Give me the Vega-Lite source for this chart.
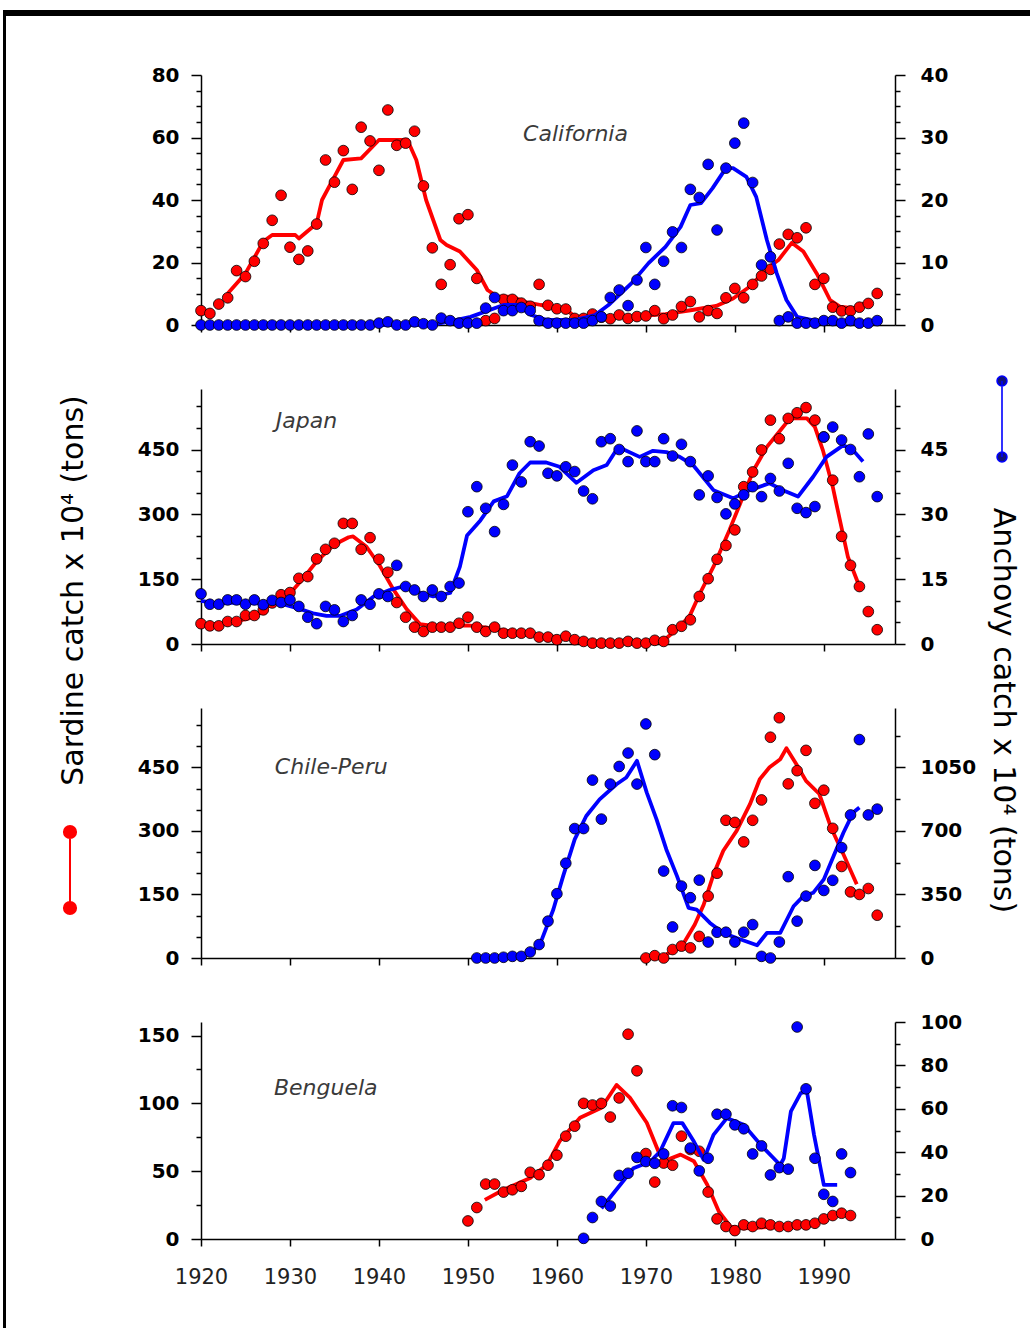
{
"$schema": "https://vega.github.io/schema/vega-lite/v6.json",
"background": "white",
"padding": {"left": 3, "top": 10, "right": 0, "bottom": 0},
"spacing": 0,
"datasets": {
"cal_sardine": [{"year":1920,"catch":4.6},{"year":1921,"catch":3.7},{"year":1922,"catch":6.7},{"year":1923,"catch":8.7},{"year":1924,"catch":17.4},{"year":1925,"catch":15.5},{"year":1926,"catch":20.4},{"year":1927,"catch":26.1},{"year":1928,"catch":33.5},{"year":1929,"catch":41.5},{"year":1930,"catch":24.9},{"year":1931,"catch":21},{"year":1932,"catch":23.7},{"year":1933,"catch":32.3},{"year":1934,"catch":52.8},{"year":1935,"catch":45.7},{"year":1936,"catch":55.8},{"year":1937,"catch":43.4},{"year":1938,"catch":63.3},{"year":1939,"catch":58.9},{"year":1940,"catch":49.5},{"year":1941,"catch":68.8},{"year":1942,"catch":57.5},{"year":1943,"catch":58.2},{"year":1944,"catch":62},{"year":1945,"catch":44.5},{"year":1946,"catch":24.7},{"year":1947,"catch":13},{"year":1948,"catch":19.3},{"year":1949,"catch":34},{"year":1950,"catch":35.3},{"year":1951,"catch":14.9},{"year":1952,"catch":1.4},{"year":1953,"catch":2.1},{"year":1954,"catch":8.2},{"year":1955,"catch":8.2},{"year":1956,"catch":7},{"year":1957,"catch":6},{"year":1958,"catch":13},{"year":1959,"catch":6.3},{"year":1960,"catch":5.2},{"year":1961,"catch":5.1},{"year":1962,"catch":2.1},{"year":1963,"catch":2.1},{"year":1964,"catch":3.5},{"year":1965,"catch":2.5},{"year":1966,"catch":2},{"year":1967,"catch":3.2},{"year":1968,"catch":2.1},{"year":1969,"catch":2.7},{"year":1970,"catch":2.9},{"year":1971,"catch":4.6},{"year":1972,"catch":2},{"year":1973,"catch":3.2},{"year":1974,"catch":5.9},{"year":1975,"catch":7.5},{"year":1976,"catch":2.6},{"year":1977,"catch":4.6},{"year":1978,"catch":3.7},{"year":1979,"catch":8.7},{"year":1980,"catch":11.7},{"year":1981,"catch":8.7},{"year":1982,"catch":13},{"year":1983,"catch":15.7},{"year":1984,"catch":17.8},{"year":1985,"catch":25.9},{"year":1986,"catch":29},{"year":1987,"catch":27.9},{"year":1988,"catch":31.1},{"year":1989,"catch":13},{"year":1990,"catch":14.9},{"year":1991,"catch":5.7},{"year":1992,"catch":4.5},{"year":1993,"catch":4.5},{"year":1994,"catch":5.7},{"year":1995,"catch":6.9},{"year":1996,"catch":10.1}],
"cal_anchovy": [{"year":1920,"catch":0},{"year":1921,"catch":0},{"year":1922,"catch":0},{"year":1923,"catch":0},{"year":1924,"catch":0},{"year":1925,"catch":0},{"year":1926,"catch":0},{"year":1927,"catch":0},{"year":1928,"catch":0},{"year":1929,"catch":0},{"year":1930,"catch":0},{"year":1931,"catch":0},{"year":1932,"catch":0},{"year":1933,"catch":0},{"year":1934,"catch":0},{"year":1935,"catch":0},{"year":1936,"catch":0},{"year":1937,"catch":0},{"year":1938,"catch":0},{"year":1939,"catch":0},{"year":1940,"catch":0.3},{"year":1941,"catch":0.5},{"year":1942,"catch":0},{"year":1943,"catch":0},{"year":1944,"catch":0.5},{"year":1945,"catch":0.2},{"year":1946,"catch":0},{"year":1947,"catch":1.1},{"year":1948,"catch":0.7},{"year":1949,"catch":0.3},{"year":1950,"catch":0.3},{"year":1951,"catch":0.3},{"year":1952,"catch":2.7},{"year":1953,"catch":4.4},{"year":1954,"catch":2.3},{"year":1955,"catch":2.3},{"year":1956,"catch":2.8},{"year":1957,"catch":2.3},{"year":1958,"catch":0.7},{"year":1959,"catch":0.3},{"year":1960,"catch":0.3},{"year":1961,"catch":0.3},{"year":1962,"catch":0.3},{"year":1963,"catch":0.3},{"year":1964,"catch":0.7},{"year":1965,"catch":1.3},{"year":1966,"catch":4.4},{"year":1967,"catch":5.6},{"year":1968,"catch":3.1},{"year":1969,"catch":7.2},{"year":1970,"catch":12.4},{"year":1971,"catch":6.5},{"year":1972,"catch":10.2},{"year":1973,"catch":14.9},{"year":1974,"catch":12.4},{"year":1975,"catch":21.7},{"year":1976,"catch":20.4},{"year":1977,"catch":25.7},{"year":1978,"catch":15.2},{"year":1979,"catch":25.1},{"year":1980,"catch":29.1},{"year":1981,"catch":32.3},{"year":1982,"catch":22.8},{"year":1983,"catch":9.6},{"year":1984,"catch":10.9},{"year":1985,"catch":0.7},{"year":1986,"catch":1.3},{"year":1987,"catch":0.3},{"year":1988,"catch":0.3},{"year":1989,"catch":0.3},{"year":1990,"catch":0.7},{"year":1991,"catch":0.7},{"year":1992,"catch":0.3},{"year":1993,"catch":0.7},{"year":1994,"catch":0.3},{"year":1995,"catch":0.3},{"year":1996,"catch":0.7}],
"cal_sardine_trend": [{"year":1923,"catch":10.1},{"year":1925,"catch":16.5},{"year":1927,"catch":26.7},{"year":1928,"catch":28.8},{"year":1930.6,"catch":28.8},{"year":1931,"catch":27.7},{"year":1933,"catch":32.5},{"year":1933.6,"catch":40},{"year":1935,"catch":47.5},{"year":1936,"catch":52.8},{"year":1938,"catch":53.3},{"year":1940,"catch":59.2},{"year":1943.2,"catch":59.2},{"year":1944.2,"catch":52.8},{"year":1945.3,"catch":40},{"year":1946.9,"catch":27.2},{"year":1947.6,"catch":25.6},{"year":1949.1,"catch":23.5},{"year":1951,"catch":17.6},{"year":1952.2,"catch":11.2},{"year":1953.3,"catch":9.1},{"year":1955,"catch":9.1},{"year":1956.2,"catch":7.5},{"year":1958.2,"catch":6.4},{"year":1960.9,"catch":5.3},{"year":1962,"catch":2.7},{"year":1963.9,"catch":2.9},{"year":1965.8,"catch":2.7},{"year":1968.4,"catch":2.7},{"year":1972.2,"catch":3.5},{"year":1975.2,"catch":4.8},{"year":1977.9,"catch":6.1},{"year":1979.8,"catch":8.5},{"year":1981.7,"catch":12.3},{"year":1983.6,"catch":18.1},{"year":1984.9,"catch":20.8},{"year":1986.4,"catch":26.3},{"year":1987.7,"catch":23.5},{"year":1989.2,"catch":16.5},{"year":1990.7,"catch":8},{"year":1991.8,"catch":5.9},{"year":1993.4,"catch":5.3},{"year":1994.5,"catch":6.9}],
"cal_anchovy_trend": [{"year":1920,"catch":0},{"year":1946,"catch":0},{"year":1950.3,"catch":1.3},{"year":1954,"catch":3.2},{"year":1955.6,"catch":3.2},{"year":1957.1,"catch":1.6},{"year":1958.9,"catch":0.8},{"year":1962,"catch":0.8},{"year":1964.3,"catch":1.6},{"year":1965.8,"catch":3.2},{"year":1968.4,"catch":6.7},{"year":1970.3,"catch":9.9},{"year":1972.2,"catch":12.5},{"year":1973.9,"catch":15.7},{"year":1975,"catch":19.2},{"year":1976.2,"catch":19.5},{"year":1977.5,"catch":21.9},{"year":1979,"catch":25.1},{"year":1979.8,"catch":25.1},{"year":1981.3,"catch":23.7},{"year":1982.4,"catch":20.5},{"year":1983.6,"catch":13.6},{"year":1984.7,"catch":8.3},{"year":1985.8,"catch":4},{"year":1987,"catch":1.3},{"year":1990,"catch":0.4},{"year":1996,"catch":0.4}],
"jap_sardine": [{"year":1920,"catch":47},{"year":1921,"catch":42},{"year":1922,"catch":42},{"year":1923,"catch":52},{"year":1924,"catch":52},{"year":1925,"catch":66},{"year":1926,"catch":66},{"year":1927,"catch":79},{"year":1928,"catch":95},{"year":1929,"catch":114},{"year":1930,"catch":119},{"year":1931,"catch":152},{"year":1932,"catch":156},{"year":1933,"catch":197},{"year":1934,"catch":219},{"year":1935,"catch":233},{"year":1936,"catch":279},{"year":1937,"catch":279},{"year":1938,"catch":219},{"year":1939,"catch":246},{"year":1940,"catch":196},{"year":1941,"catch":166},{"year":1942,"catch":96},{"year":1943,"catch":62},{"year":1944,"catch":39},{"year":1945,"catch":29},{"year":1946,"catch":39},{"year":1947,"catch":39},{"year":1948,"catch":39},{"year":1949,"catch":48},{"year":1950,"catch":62},{"year":1951,"catch":39},{"year":1952,"catch":29},{"year":1953,"catch":39},{"year":1954,"catch":25},{"year":1955,"catch":25},{"year":1956,"catch":25},{"year":1957,"catch":25},{"year":1958,"catch":16},{"year":1959,"catch":16},{"year":1960,"catch":10},{"year":1961,"catch":18},{"year":1962,"catch":10},{"year":1963,"catch":6},{"year":1964,"catch":2},{"year":1965,"catch":2},{"year":1966,"catch":2},{"year":1967,"catch":2},{"year":1968,"catch":6},{"year":1969,"catch":2},{"year":1970,"catch":2},{"year":1971,"catch":8.5},{"year":1972,"catch":6},{"year":1973,"catch":33},{"year":1974,"catch":41},{"year":1975,"catch":56},{"year":1976,"catch":110},{"year":1977,"catch":151},{"year":1978,"catch":196},{"year":1979,"catch":228},{"year":1980,"catch":264},{"year":1981,"catch":364},{"year":1982,"catch":398},{"year":1983,"catch":449},{"year":1984,"catch":518},{"year":1985,"catch":475},{"year":1986,"catch":522},{"year":1987,"catch":535},{"year":1988,"catch":547},{"year":1989,"catch":518},{"year":1990,"catch":479},{"year":1991,"catch":379},{"year":1992,"catch":249},{"year":1993,"catch":182},{"year":1994,"catch":133},{"year":1995,"catch":75},{"year":1996,"catch":33}],
"jap_anchovy": [{"year":1920,"catch":11.6},{"year":1921,"catch":9.2},{"year":1922,"catch":9.2},{"year":1923,"catch":10.2},{"year":1924,"catch":10.2},{"year":1925,"catch":9.2},{"year":1926,"catch":10.2},{"year":1927,"catch":9.1},{"year":1928,"catch":10.1},{"year":1929,"catch":9.6},{"year":1930,"catch":10.2},{"year":1931,"catch":8.7},{"year":1932,"catch":6.2},{"year":1933,"catch":4.7},{"year":1934,"catch":8.7},{"year":1935,"catch":7.9},{"year":1936,"catch":5.2},{"year":1937,"catch":6.6},{"year":1938,"catch":10.2},{"year":1939,"catch":9.2},{"year":1940,"catch":11.6},{"year":1941,"catch":11},{"year":1942,"catch":18.2},{"year":1943,"catch":13.3},{"year":1944,"catch":12.5},{"year":1945,"catch":11},{"year":1946,"catch":12.5},{"year":1947,"catch":11},{"year":1948,"catch":13.3},{"year":1949,"catch":14.1},{"year":1950,"catch":30.6},{"year":1951,"catch":36.4},{"year":1952,"catch":31.4},{"year":1953,"catch":26},{"year":1954,"catch":32.3},{"year":1955,"catch":41.4},{"year":1956,"catch":37.5},{"year":1957,"catch":46.8},{"year":1958,"catch":45.8},{"year":1959,"catch":39.5},{"year":1960,"catch":38.9},{"year":1961,"catch":41},{"year":1962,"catch":39.9},{"year":1963,"catch":35.4},{"year":1964,"catch":33.6},{"year":1965,"catch":46.8},{"year":1966,"catch":47.5},{"year":1967,"catch":45},{"year":1968,"catch":42.2},{"year":1969,"catch":49.3},{"year":1970,"catch":42.2},{"year":1971,"catch":42.2},{"year":1972,"catch":47.5},{"year":1973,"catch":43.5},{"year":1974,"catch":46.2},{"year":1975,"catch":42.2},{"year":1976,"catch":34.5},{"year":1977,"catch":38.9},{"year":1978,"catch":33.9},{"year":1979,"catch":30.1},{"year":1980,"catch":32.4},{"year":1981,"catch":34.5},{"year":1982,"catch":36.4},{"year":1983,"catch":34.1},{"year":1984,"catch":38.3},{"year":1985,"catch":35.4},{"year":1986,"catch":41.8},{"year":1987,"catch":31.4},{"year":1988,"catch":30.4},{"year":1989,"catch":31.8},{"year":1990,"catch":47.9},{"year":1991,"catch":50.2},{"year":1992,"catch":47.2},{"year":1993,"catch":45},{"year":1994,"catch":38.7},{"year":1995,"catch":48.6},{"year":1996,"catch":34.1}],
"jap_sardine_trend": [{"year":1920,"catch":45},{"year":1923,"catch":48},{"year":1926,"catch":62},{"year":1928,"catch":95},{"year":1930,"catch":117},{"year":1931.2,"catch":145},{"year":1933,"catch":191},{"year":1934.9,"catch":229},{"year":1936.6,"catch":247},{"year":1937.1,"catch":249},{"year":1938.6,"catch":225},{"year":1940.1,"catch":181},{"year":1941.6,"catch":127},{"year":1943.1,"catch":81},{"year":1944.6,"catch":46},{"year":1946.1,"catch":42},{"year":1948.7,"catch":42},{"year":1950,"catch":43},{"year":1952.1,"catch":38},{"year":1954.3,"catch":31},{"year":1957.3,"catch":21},{"year":1961.1,"catch":14},{"year":1963.7,"catch":6},{"year":1968.6,"catch":2},{"year":1971.9,"catch":6},{"year":1973.4,"catch":33},{"year":1974.9,"catch":64},{"year":1976.1,"catch":118},{"year":1977.6,"catch":179},{"year":1979.4,"catch":264},{"year":1980.6,"catch":325},{"year":1982.1,"catch":402},{"year":1983.6,"catch":456},{"year":1985.1,"catch":494},{"year":1986.2,"catch":522},{"year":1988.1,"catch":522},{"year":1989,"catch":502},{"year":1989.9,"catch":448},{"year":1991,"catch":364},{"year":1991.8,"catch":287},{"year":1992.7,"catch":202},{"year":1994,"catch":133}],
"jap_anchovy_trend": [{"year":1920,"catch":10},{"year":1921.8,"catch":9.4},{"year":1924,"catch":9.6},{"year":1926.6,"catch":9.4},{"year":1928.9,"catch":9.4},{"year":1930.8,"catch":8.3},{"year":1932.6,"catch":7.1},{"year":1934.1,"catch":6.5},{"year":1935.6,"catch":6.5},{"year":1937.5,"catch":8},{"year":1939.4,"catch":11},{"year":1941.2,"catch":12.5},{"year":1942.7,"catch":13.3},{"year":1944.2,"catch":12.1},{"year":1946.1,"catch":11},{"year":1948,"catch":11.8},{"year":1949.1,"catch":17.9},{"year":1949.9,"catch":25.1},{"year":1951.4,"catch":28.6},{"year":1952.9,"catch":33},{"year":1954.4,"catch":34.2},{"year":1955.8,"catch":39.5},{"year":1957,"catch":42},{"year":1958.8,"catch":42},{"year":1960.3,"catch":41},{"year":1962.2,"catch":37.3},{"year":1964.1,"catch":40.2},{"year":1965.6,"catch":41.4},{"year":1966.9,"catch":45.6},{"year":1969.3,"catch":43.3},{"year":1970.8,"catch":44.7},{"year":1972.3,"catch":44.4},{"year":1973.8,"catch":43.3},{"year":1975.3,"catch":41.4},{"year":1977.6,"catch":35.6},{"year":1979.8,"catch":33.7},{"year":1981.7,"catch":35.6},{"year":1983.9,"catch":37.2},{"year":1985.4,"catch":35.6},{"year":1987.1,"catch":34.1},{"year":1988.8,"catch":38.7},{"year":1990.3,"catch":43.3},{"year":1992.2,"catch":46},{"year":1993.3,"catch":44.8},{"year":1994.4,"catch":42.2}],
"chi_sardine": [{"year":1970,"catch":0},{"year":1971,"catch":5.5},{"year":1972,"catch":0},{"year":1973,"catch":20},{"year":1974,"catch":28},{"year":1975,"catch":24},{"year":1976,"catch":51},{"year":1977,"catch":146},{"year":1978,"catch":200},{"year":1979,"catch":325},{"year":1980,"catch":320},{"year":1981,"catch":274},{"year":1982,"catch":325},{"year":1983,"catch":373},{"year":1984,"catch":521},{"year":1985,"catch":567},{"year":1986,"catch":411},{"year":1987,"catch":442},{"year":1988,"catch":490},{"year":1989,"catch":365},{"year":1990,"catch":396},{"year":1991,"catch":306},{"year":1992,"catch":216},{"year":1993,"catch":156},{"year":1994,"catch":150},{"year":1995,"catch":164},{"year":1996,"catch":101}],
"chi_anchovy": [{"year":1951,"catch":0},{"year":1952,"catch":0},{"year":1953,"catch":0},{"year":1954,"catch":4},{"year":1955,"catch":9},{"year":1956,"catch":9},{"year":1957,"catch":33},{"year":1958,"catch":74},{"year":1959,"catch":203},{"year":1960,"catch":354},{"year":1961,"catch":522},{"year":1962,"catch":713},{"year":1963,"catch":713},{"year":1964,"catch":980},{"year":1965,"catch":765},{"year":1966,"catch":958},{"year":1967,"catch":1055},{"year":1968,"catch":1129},{"year":1969,"catch":958},{"year":1970,"catch":1289},{"year":1971,"catch":1120},{"year":1972,"catch":479},{"year":1973,"catch":171},{"year":1974,"catch":396},{"year":1975,"catch":332},{"year":1976,"catch":429},{"year":1977,"catch":88},{"year":1978,"catch":142},{"year":1979,"catch":142},{"year":1980,"catch":88},{"year":1981,"catch":142},{"year":1982,"catch":184},{"year":1983,"catch":9},{"year":1984,"catch":0},{"year":1985,"catch":88},{"year":1986,"catch":448},{"year":1987,"catch":203},{"year":1988,"catch":341},{"year":1989,"catch":510},{"year":1990,"catch":372},{"year":1991,"catch":428},{"year":1992,"catch":608},{"year":1993,"catch":788},{"year":1994,"catch":1203},{"year":1995,"catch":788},{"year":1996,"catch":820}],
"chi_sardine_trend": [{"year":1972.3,"catch":9},{"year":1973.8,"catch":24},{"year":1974.4,"catch":40},{"year":1975.5,"catch":79},{"year":1976.5,"catch":126},{"year":1977.6,"catch":197},{"year":1978.7,"catch":253},{"year":1980.2,"catch":300},{"year":1981.7,"catch":363},{"year":1982.8,"catch":422},{"year":1983.9,"catch":450},{"year":1985.1,"catch":469},{"year":1985.8,"catch":495},{"year":1986.9,"catch":458},{"year":1988,"catch":418},{"year":1989.5,"catch":387},{"year":1990.8,"catch":308},{"year":1992.2,"catch":245},{"year":1993.7,"catch":174}],
"chi_anchovy_trend": [{"year":1951,"catch":0},{"year":1955,"catch":2},{"year":1956.2,"catch":9},{"year":1957.3,"catch":37},{"year":1958.3,"catch":101},{"year":1959.6,"catch":267},{"year":1960.7,"catch":451},{"year":1962,"catch":653},{"year":1963.3,"catch":782},{"year":1964.8,"catch":874},{"year":1966.7,"catch":957},{"year":1967.8,"catch":994},{"year":1969,"catch":1086},{"year":1970.1,"catch":911},{"year":1971.2,"catch":764},{"year":1972.3,"catch":598},{"year":1973.5,"catch":451},{"year":1974.8,"catch":276},{"year":1975.7,"catch":267},{"year":1977.2,"catch":193},{"year":1978.7,"catch":138},{"year":1980.2,"catch":110},{"year":1982.5,"catch":70},{"year":1983.6,"catch":138},{"year":1985.1,"catch":138},{"year":1986.6,"catch":285},{"year":1987.7,"catch":341},{"year":1988.8,"catch":359},{"year":1990,"catch":433},{"year":1991.1,"catch":562},{"year":1992.2,"catch":690},{"year":1993.3,"catch":801},{"year":1994,"catch":829}],
"ben_sardine": [{"year":1950,"catch":13.3},{"year":1951,"catch":23.2},{"year":1952,"catch":40.5},{"year":1953,"catch":40.5},{"year":1954,"catch":34.6},{"year":1955,"catch":36.3},{"year":1956,"catch":38.8},{"year":1957,"catch":49.2},{"year":1958,"catch":47.4},{"year":1959,"catch":54.4},{"year":1960,"catch":61.8},{"year":1961,"catch":75.8},{"year":1962,"catch":83.2},{"year":1963,"catch":100},{"year":1964,"catch":98.8},{"year":1965,"catch":100},{"year":1966,"catch":89.9},{"year":1967,"catch":104},{"year":1968,"catch":151},{"year":1969,"catch":124},{"year":1970,"catch":63},{"year":1971,"catch":42},{"year":1972,"catch":56},{"year":1973,"catch":54.4},{"year":1974,"catch":75.8},{"year":1975,"catch":66},{"year":1976,"catch":64.7},{"year":1977,"catch":34.6},{"year":1978,"catch":14.8},{"year":1979,"catch":9.2},{"year":1980,"catch":6.2},{"year":1981,"catch":10.4},{"year":1982,"catch":9.2},{"year":1983,"catch":11.6},{"year":1984,"catch":10.4},{"year":1985,"catch":9.2},{"year":1986,"catch":9.2},{"year":1987,"catch":10.4},{"year":1988,"catch":10.4},{"year":1989,"catch":11.6},{"year":1990,"catch":14.8},{"year":1991,"catch":17.3},{"year":1992,"catch":19},{"year":1993,"catch":17.3}],
"ben_anchovy": [{"year":1963,"catch":0.3},{"year":1964,"catch":9.9},{"year":1965,"catch":17.3},{"year":1966,"catch":15.2},{"year":1967,"catch":29.3},{"year":1968,"catch":30.3},{"year":1969,"catch":37.6},{"year":1970,"catch":35.7},{"year":1971,"catch":34.9},{"year":1972,"catch":39.2},{"year":1973,"catch":61.4},{"year":1974,"catch":60.6},{"year":1975,"catch":41.9},{"year":1976,"catch":31.4},{"year":1977,"catch":37.2},{"year":1978,"catch":57.5},{"year":1979,"catch":57.5},{"year":1980,"catch":52.6},{"year":1981,"catch":50.8},{"year":1982,"catch":39.2},{"year":1983,"catch":42.9},{"year":1984,"catch":29.5},{"year":1985,"catch":32.9},{"year":1986,"catch":32.2},{"year":1987,"catch":97.7},{"year":1988,"catch":69.2},{"year":1989,"catch":37.2},{"year":1990,"catch":20.6},{"year":1991,"catch":17.3},{"year":1992,"catch":39.2},{"year":1993,"catch":30.6}],
"ben_sardine_trend": [{"year":1951.9,"catch":28.9},{"year":1954,"catch":36.3},{"year":1957,"catch":45},{"year":1958.9,"catch":54.8},{"year":1960.3,"catch":72},{"year":1962.6,"catch":89.4},{"year":1965,"catch":96.8},{"year":1966.7,"catch":113.6},{"year":1968.2,"catch":104.2},{"year":1970.1,"catch":85.7},{"year":1971.4,"catch":64.7},{"year":1972.4,"catch":58.5},{"year":1973.9,"catch":62.2},{"year":1975.4,"catch":57.3},{"year":1976.9,"catch":40},{"year":1978.2,"catch":20.3},{"year":1979.5,"catch":9.2},{"year":1981,"catch":7.9},{"year":1984.8,"catch":9.2},{"year":1988.5,"catch":10.9},{"year":1990.4,"catch":15.3},{"year":1991.9,"catch":19},{"year":1992.8,"catch":17.3}],
"ben_anchovy_trend": [{"year":1965,"catch":14.2},{"year":1967.1,"catch":24.9},{"year":1968.6,"catch":32.6},{"year":1970.5,"catch":35.7},{"year":1971.6,"catch":40.3},{"year":1973.1,"catch":53.4},{"year":1974.1,"catch":53.4},{"year":1975.4,"catch":44.9},{"year":1976.5,"catch":36.5},{"year":1977.6,"catch":48},{"year":1979.1,"catch":55.7},{"year":1981,"catch":52.6},{"year":1982.9,"catch":43.4},{"year":1985.1,"catch":34.1},{"year":1985.5,"catch":37.2},{"year":1986.3,"catch":58.8},{"year":1987.4,"catch":67.2},{"year":1988.1,"catch":68},{"year":1988.9,"catch":48},{"year":1990,"catch":24.9},{"year":1991.5,"catch":24.9}]
},
"hconcat": [
{"width": 3, "height": 1318, "view": {"fill": "#000000", "stroke": null}, "data": {"values": []}, "mark": "point", "encoding": {}},
{"spacing": 49, "vconcat": [
{"width": 1024, "height": 6, "view": {"fill": "#000000", "stroke": null}, "data": {"values": []}, "mark": "point", "encoding": {}},
{"spacing": 51, "hconcat": [
{"width": 1, "height": 1, "view": {"stroke": null}, "data": {"values": []}, "mark": "point", "encoding": {}},
{"spacing": 64, "bounds": "flush", "vconcat": [
{"width": 694, "height": 250, "resolve": {"scale": {"y": "independent"}},
"layer": [
{"layer": [
{"data": {"name": "cal_sardine_trend"}, "mark": {"type": "line", "strokeWidth": 3.8, "strokeJoin": "round"},
"encoding": {
"x": {"field": "year", "type": "quantitative", "scale": {"domain": [1920, 1998], "nice": false, "zero": false}, "axis": {"values": [1920,1930,1940,1950,1960,1970,1980,1990], "tickCount": 100, "labels": false, "title": null}},
"y": {"field": "catch", "type": "quantitative", "scale": {"domain": [0, 80], "nice": false}, "axis": {"orient": "left", "title": null, "format": "d", "tickCount": 100, "labelOverlap": false, "values": [0,5,10,15,20,25,30,35,40,45,50,55,60,65,70,75,80], "labelExpr": "datum.value % 20 === 0 ? datum.label : ''", "tickSize": {"condition": {"test": "datum.value % 20 === 0", "value": 10}, "value": 5}, "labelPadding": 12}},
"color": {"datum": "Sardine", "type": "nominal", "scale": {"domain": ["Sardine"], "range": ["#ff0000"]},
"legend": {"orient": "none", "legendX": 28, "legendY": 821, "title": null, "labelExpr": "''", "labelFontSize": 1, "labelOffset": 0, "padding": 0, "symbolType": "M0,-1L0,1M0.16,-1A0.16,0.16,0,1,1,-0.16,-1A0.16,0.16,0,1,1,0.16,-1ZM0.16,1A0.16,0.16,0,1,1,-0.16,1A0.16,0.16,0,1,1,0.16,1Z", "symbolSize": 5776, "symbolStrokeWidth": 2, "symbolFillColor": "#ff0000", "symbolStrokeColor": "#ff4040"}}
}},
{"data": {"name": "cal_sardine"}, "mark": {"type": "circle", "size": 115, "fill": "#ff0000", "stroke": "#000000", "strokeWidth": 0.8, "opacity": 1},
"encoding": {"x": {"field": "year", "type": "quantitative"}, "y": {"field": "catch", "type": "quantitative"}}},
{"data": {"values": [{}]}, "mark": {"type": "text", "text": "California", "font": "DejaVu Sans", "fontStyle": "italic", "fontSize": 22, "color": "#3a3a3a", "align": "left", "baseline": "middle"},
"encoding": {"x": {"datum": 1956.2, "type": "quantitative"}, "y": {"datum": 61, "type": "quantitative"}}}
]},
{"layer": [
{"data": {"name": "cal_anchovy_trend"}, "mark": {"type": "line", "strokeWidth": 3.8, "strokeJoin": "round"},
"encoding": {
"x": {"field": "year", "type": "quantitative"},
"y": {"field": "catch", "type": "quantitative", "scale": {"domain": [0, 40], "nice": false}, "axis": {"orient": "right", "title": null, "format": "d", "tickCount": 100, "labelOverlap": false, "values": [0,2.5,5,7.5,10,12.5,15,17.5,20,22.5,25,27.5,30,32.5,35,37.5,40], "labelExpr": "datum.value % 10 === 0 ? datum.label : ''", "tickSize": {"condition": {"test": "datum.value % 10 === 0", "value": 10}, "value": 5}, "labelPadding": 15}},
"stroke": {"datum": "Anchovy", "type": "nominal", "scale": {"domain": ["Anchovy"], "range": ["#0000ff"]},
"legend": {"orient": "none", "legendX": 960, "legendY": 370, "title": null, "labelExpr": "''", "labelFontSize": 1, "labelOffset": 0, "padding": 0, "symbolType": "M0,-1L0,1M0.13,-1A0.13,0.13,0,1,1,-0.13,-1A0.13,0.13,0,1,1,0.13,-1ZM0.13,1A0.13,0.13,0,1,1,-0.13,1A0.13,0.13,0,1,1,0.13,1Z", "symbolSize": 5776, "symbolStrokeWidth": 1.6, "symbolFillColor": "#12127a", "symbolStrokeColor": "#12127a"}}
}},
{"data": {"name": "cal_anchovy"}, "mark": {"type": "circle", "size": 115, "fill": "#0000ff", "stroke": "#000000", "strokeWidth": 0.8, "opacity": 1},
"encoding": {"x": {"field": "year", "type": "quantitative"}, "y": {"field": "catch", "type": "quantitative"}}}
]}
]},
{"width": 694, "height": 255, "resolve": {"scale": {"y": "independent"}},
"layer": [
{"layer": [
{"data": {"name": "jap_sardine_trend"}, "mark": {"type": "line", "strokeWidth": 3.8, "strokeJoin": "round"},
"encoding": {
"x": {"field": "year", "type": "quantitative", "scale": {"domain": [1920, 1998], "nice": false, "zero": false}, "axis": {"values": [1920,1930,1940,1950,1960,1970,1980,1990], "tickCount": 100, "labels": false, "title": null}},
"y": {"field": "catch", "type": "quantitative", "scale": {"domain": [0, 590], "nice": false}, "axis": {"orient": "left", "format": "d", "tickCount": 100, "labelOverlap": false, "values": [0,50,100,150,200,250,300,350,400,450,500,550], "labelExpr": "datum.value % 150 === 0 ? datum.label : ''", "tickSize": {"condition": {"test": "datum.value % 150 === 0", "value": 10}, "value": 5}, "labelPadding": 12,
"title": "Sardine catch x 10⁴ (tons)", "titleFont": "DejaVu Sans", "titleFontSize": 30, "titleFontWeight": "normal", "titleColor": "#000000", "titleAngle": 270, "titleAlign": "center", "titleBaseline": "middle", "titleX": -128, "titleY": 201}},
"color": {"datum": "Sardine", "type": "nominal"}
}},
{"data": {"name": "jap_sardine"}, "mark": {"type": "circle", "size": 115, "fill": "#ff0000", "stroke": "#000000", "strokeWidth": 0.8, "opacity": 1},
"encoding": {"x": {"field": "year", "type": "quantitative"}, "y": {"field": "catch", "type": "quantitative"}}},
{"data": {"values": [{}]}, "mark": {"type": "text", "text": "Japan", "font": "DejaVu Sans", "fontStyle": "italic", "fontSize": 22, "color": "#3a3a3a", "align": "left", "baseline": "middle"},
"encoding": {"x": {"datum": 1928.4, "type": "quantitative"}, "y": {"datum": 515, "type": "quantitative"}}}
]},
{"layer": [
{"data": {"name": "jap_anchovy_trend"}, "mark": {"type": "line", "strokeWidth": 3.8, "strokeJoin": "round"},
"encoding": {
"x": {"field": "year", "type": "quantitative"},
"y": {"field": "catch", "type": "quantitative", "scale": {"domain": [0, 59], "nice": false}, "axis": {"orient": "right", "format": "d", "tickCount": 100, "labelOverlap": false, "values": [0,5,10,15,20,25,30,35,40,45,50,55], "labelExpr": "datum.value % 15 === 0 ? datum.label : ''", "tickSize": {"condition": {"test": "datum.value % 15 === 0", "value": 10}, "value": 5}, "labelPadding": 15,
"title": "Anchovy catch x 10⁴ (tons)", "titleFont": "DejaVu Sans", "titleFontSize": 30, "titleFontWeight": "normal", "titleColor": "#000000", "titleAngle": 90, "titleAlign": "center", "titleBaseline": "middle", "titleX": 107, "titleY": 321}},
"stroke": {"datum": "Anchovy", "type": "nominal"}
}},
{"data": {"name": "jap_anchovy"}, "mark": {"type": "circle", "size": 115, "fill": "#0000ff", "stroke": "#000000", "strokeWidth": 0.8, "opacity": 1},
"encoding": {"x": {"field": "year", "type": "quantitative"}, "y": {"field": "catch", "type": "quantitative"}}}
]}
]},
{"width": 694, "height": 250, "resolve": {"scale": {"y": "independent"}},
"layer": [
{"layer": [
{"data": {"name": "chi_sardine_trend"}, "mark": {"type": "line", "strokeWidth": 3.8, "strokeJoin": "round"},
"encoding": {
"x": {"field": "year", "type": "quantitative", "scale": {"domain": [1920, 1998], "nice": false, "zero": false}, "axis": {"values": [1920,1930,1940,1950,1960,1970,1980,1990], "tickCount": 100, "labels": false, "title": null}},
"y": {"field": "catch", "type": "quantitative", "scale": {"domain": [0, 590], "nice": false}, "axis": {"orient": "left", "title": null, "format": "d", "tickCount": 100, "labelOverlap": false, "values": [0,50,100,150,200,250,300,350,400,450,500,550], "labelExpr": "datum.value % 150 === 0 ? datum.label : ''", "tickSize": {"condition": {"test": "datum.value % 150 === 0", "value": 10}, "value": 5}, "labelPadding": 12}},
"color": {"datum": "Sardine", "type": "nominal"}
}},
{"data": {"name": "chi_sardine"}, "mark": {"type": "circle", "size": 115, "fill": "#ff0000", "stroke": "#000000", "strokeWidth": 0.8, "opacity": 1},
"encoding": {"x": {"field": "year", "type": "quantitative"}, "y": {"field": "catch", "type": "quantitative"}}},
{"data": {"values": [{}]}, "mark": {"type": "text", "text": "Chile-Peru", "font": "DejaVu Sans", "fontStyle": "italic", "fontSize": 22, "color": "#3a3a3a", "align": "left", "baseline": "middle"},
"encoding": {"x": {"datum": 1928.3, "type": "quantitative"}, "y": {"datum": 450, "type": "quantitative"}}}
]},
{"layer": [
{"data": {"name": "chi_anchovy_trend"}, "mark": {"type": "line", "strokeWidth": 3.8, "strokeJoin": "round"},
"encoding": {
"x": {"field": "year", "type": "quantitative"},
"y": {"field": "catch", "type": "quantitative", "scale": {"domain": [0, 1377], "nice": false}, "axis": {"orient": "right", "title": null, "format": "d", "tickCount": 100, "labelOverlap": false, "values": [0,175,350,525,700,875,1050,1225], "labelExpr": "datum.value % 350 === 0 ? datum.label : ''", "tickSize": {"condition": {"test": "datum.value % 350 === 0", "value": 10}, "value": 5}, "labelPadding": 15}},
"stroke": {"datum": "Anchovy", "type": "nominal"}
}},
{"data": {"name": "chi_anchovy"}, "mark": {"type": "circle", "size": 115, "fill": "#0000ff", "stroke": "#000000", "strokeWidth": 0.8, "opacity": 1},
"encoding": {"x": {"field": "year", "type": "quantitative"}, "y": {"field": "catch", "type": "quantitative"}}}
]}
]},
{"width": 694, "height": 217, "resolve": {"scale": {"y": "independent"}},
"layer": [
{"layer": [
{"data": {"name": "ben_sardine_trend"}, "mark": {"type": "line", "strokeWidth": 3.8, "strokeJoin": "round"},
"encoding": {
"x": {"field": "year", "type": "quantitative", "scale": {"domain": [1920, 1998], "nice": false, "zero": false}, "axis": {"values": [1920,1930,1940,1950,1960,1970,1980,1990], "tickCount": 100, "title": null, "format": "d"}},
"y": {"field": "catch", "type": "quantitative", "scale": {"domain": [0, 160], "nice": false}, "axis": {"orient": "left", "title": null, "format": "d", "tickCount": 100, "labelOverlap": false, "values": [0,25,50,75,100,125,150], "labelExpr": "datum.value % 50 === 0 ? datum.label : ''", "tickSize": {"condition": {"test": "datum.value % 50 === 0", "value": 10}, "value": 5}, "labelPadding": 12}},
"color": {"datum": "Sardine", "type": "nominal"}
}},
{"data": {"name": "ben_sardine"}, "mark": {"type": "circle", "size": 115, "fill": "#ff0000", "stroke": "#000000", "strokeWidth": 0.8, "opacity": 1},
"encoding": {"x": {"field": "year", "type": "quantitative"}, "y": {"field": "catch", "type": "quantitative"}}},
{"data": {"values": [{}]}, "mark": {"type": "text", "text": "Benguela", "font": "DejaVu Sans", "fontStyle": "italic", "fontSize": 22, "color": "#3a3a3a", "align": "left", "baseline": "middle"},
"encoding": {"x": {"datum": 1928.2, "type": "quantitative"}, "y": {"datum": 111, "type": "quantitative"}}}
]},
{"layer": [
{"data": {"name": "ben_anchovy_trend"}, "mark": {"type": "line", "strokeWidth": 3.8, "strokeJoin": "round"},
"encoding": {
"x": {"field": "year", "type": "quantitative"},
"y": {"field": "catch", "type": "quantitative", "scale": {"domain": [0, 100], "nice": false}, "axis": {"orient": "right", "title": null, "format": "d", "tickCount": 100, "labelOverlap": false, "values": [0,10,20,30,40,50,60,70,80,90,100], "labelExpr": "datum.value % 20 === 0 ? datum.label : ''", "tickSize": {"condition": {"test": "datum.value % 20 === 0", "value": 10}, "value": 5}, "labelPadding": 15}},
"stroke": {"datum": "Anchovy", "type": "nominal"}
}},
{"data": {"name": "ben_anchovy"}, "mark": {"type": "circle", "size": 115, "fill": "#0000ff", "stroke": "#000000", "strokeWidth": 0.8, "opacity": 1},
"encoding": {"x": {"field": "year", "type": "quantitative"}, "y": {"field": "catch", "type": "quantitative"}}}
]}
]}
]}
]}
]}
],
"config": {
"view": {"stroke": null},
"font": "DejaVu Sans",
"axis": {"domainColor": "#000000", "domainWidth": 1.5, "tickColor": "#000000", "tickWidth": 1.5, "grid": false, "labelFont": "DejaVu Sans", "labelFontSize": 20, "labelFontWeight": "bold", "labelColor": "#000000", "labelOverlap": false, "labelFlush": false},
"axisX": {"tickSize": 7, "labelFontSize": 21, "labelFontWeight": "normal", "labelColor": "#222222", "labelPadding": 20}
}
}
